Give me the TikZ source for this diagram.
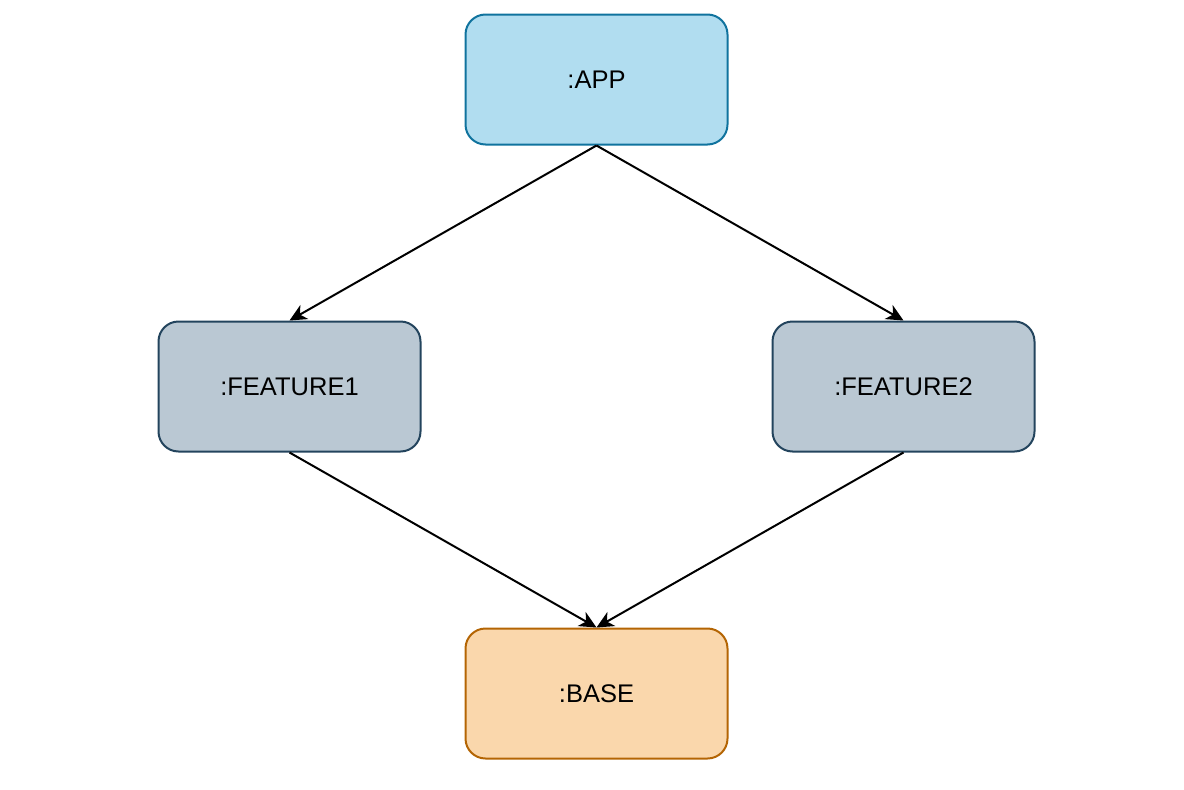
\documentclass[tikz,border=0pt]{standalone}
\usepackage{fontspec}
\setmainfont{Liberation Sans}
\usetikzlibrary{arrows.meta}
\definecolor{appfill}{HTML}{B1DDF0}
\definecolor{appline}{HTML}{10739E}
\definecolor{featfill}{HTML}{BAC8D3}
\definecolor{featline}{HTML}{23445D}
\definecolor{basefill}{HTML}{FAD7AC}
\definecolor{baseline}{HTML}{B46504}
\tikzset{
  box/.style={rectangle, rounded corners=20pt, minimum width=262pt, minimum height=130pt, line width=2pt, inner sep=0pt, font=\fontsize{25.5}{30}\selectfont},
  appbox/.style={box, draw=appline, fill=appfill},
  featbox/.style={box, draw=featline, fill=featfill},
  basebox/.style={box, draw=baseline, fill=basefill},
  conn/.style={line width=2pt, -{Stealth[length=17pt, width=16pt, inset=5pt]}}
}
\begin{document}
\begin{tikzpicture}[x=1pt, y=-1pt]
\useasboundingbox (0,0) rectangle (1184,790);
\node[appbox] (app) at (596.5,79.5) {:APP};
\node[featbox] (f1) at (289.5,386.5) {:FEATURE1};
\node[featbox] (f2) at (903.5,386.5) {:FEATURE2};
\node[basebox] (base) at (596.5,693.5) {:BASE};
\draw[conn] (app.south) -- (f1.north);
\draw[conn] (app.south) -- (f2.north);
\draw[conn] (f1.south) -- (base.north);
\draw[conn] (f2.south) -- (base.north);
\end{tikzpicture}
\end{document}
